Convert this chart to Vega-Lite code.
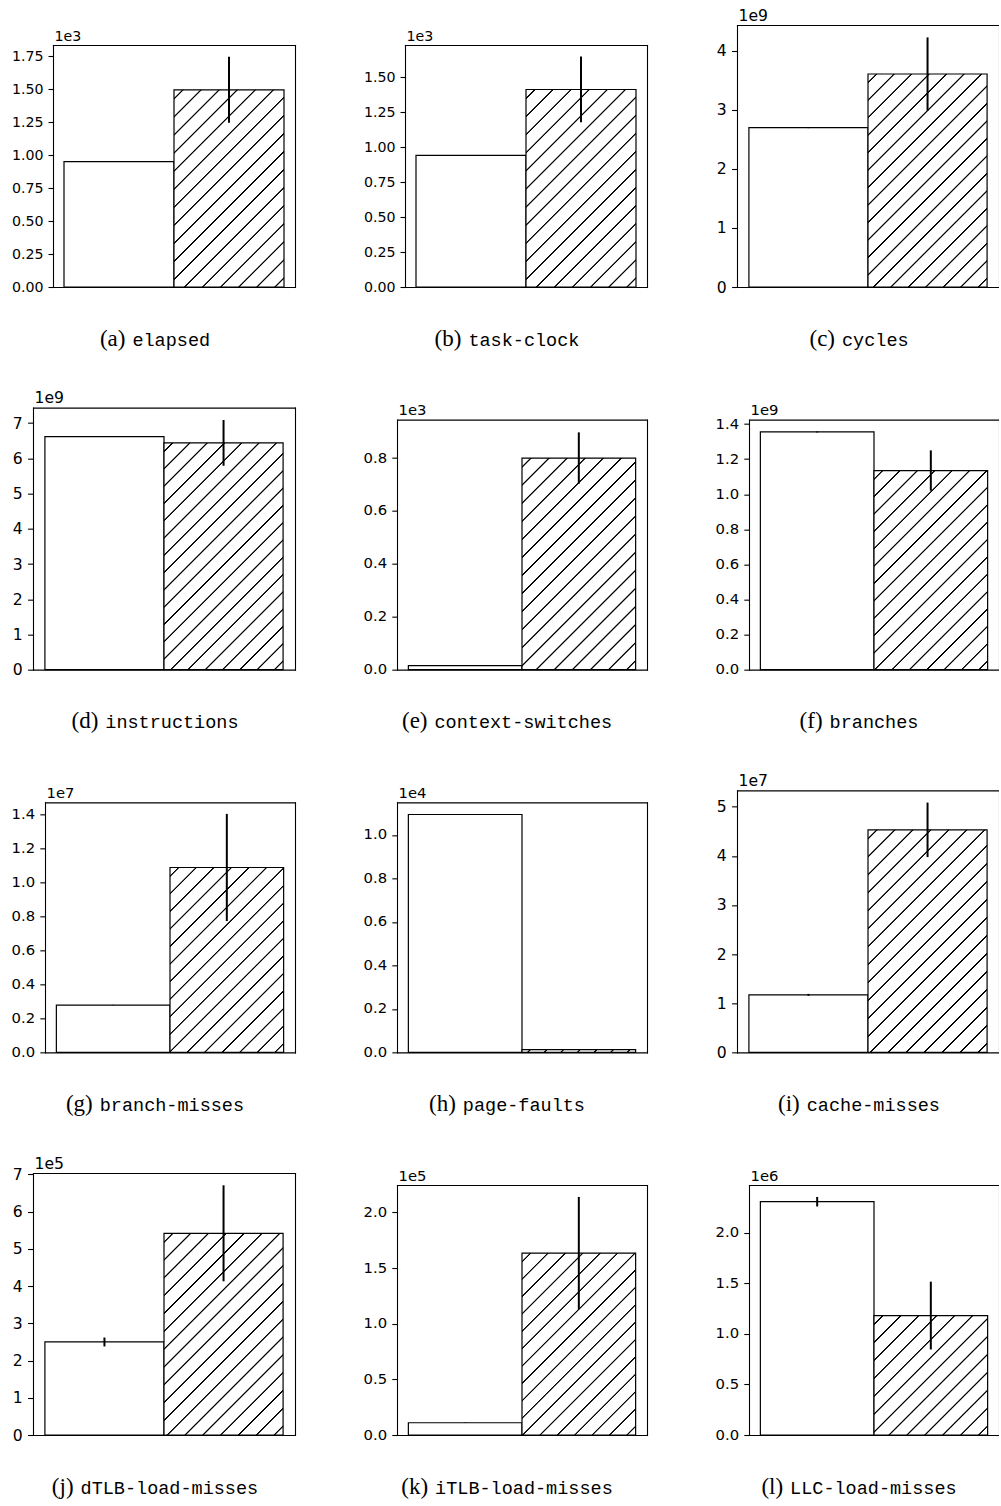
{
"$schema": "https://vega.github.io/schema/vega-lite/v6.json",
"padding": {"left": 11, "top": 8, "right": 0, "bottom": 0},
"datasets": {"perf": [
{"metric":"elapsed","sys":"A","value":950,"err":3},
{"metric":"elapsed","sys":"B","value":1495,"err":250},
{"metric":"task-clock","sys":"A","value":941,"err":3},
{"metric":"task-clock","sys":"B","value":1412,"err":235},
{"metric":"cycles","sys":"A","value":2.70e9,"err":0.008e9},
{"metric":"cycles","sys":"B","value":3.61e9,"err":0.62e9},
{"metric":"instructions","sys":"A","value":6.62e9,"err":0.01e9},
{"metric":"instructions","sys":"B","value":6.44e9,"err":0.65e9},
{"metric":"context-switches","sys":"A","value":15,"err":1},
{"metric":"context-switches","sys":"B","value":800,"err":97},
{"metric":"branches","sys":"A","value":1.355e9,"err":0.003e9},
{"metric":"branches","sys":"B","value":1.135e9,"err":0.115e9},
{"metric":"branch-misses","sys":"A","value":2.78e6,"err":0.01e6},
{"metric":"branch-misses","sys":"B","value":1.087e7,"err":3.15e6},
{"metric":"page-faults","sys":"A","value":10940,"err":15},
{"metric":"page-faults","sys":"B","value":125,"err":5},
{"metric":"cache-misses","sys":"A","value":1.17e7,"err":0.02e7},
{"metric":"cache-misses","sys":"B","value":4.53e7,"err":0.555e7},
{"metric":"dTLB-load-misses","sys":"A","value":2.5e5,"err":0.12e5},
{"metric":"dTLB-load-misses","sys":"B","value":5.42e5,"err":1.29e5},
{"metric":"iTLB-load-misses","sys":"A","value":1.1e4,"err":200},
{"metric":"iTLB-load-misses","sys":"B","value":1.635e5,"err":0.505e5},
{"metric":"LLC-load-misses","sys":"A","value":2.305e6,"err":0.047e6},
{"metric":"LLC-load-misses","sys":"B","value":1.18e6,"err":0.335e6}
]},
"data": {"name": "perf"},
"columns": 3,
"bounds": "flush",
"spacing": {"row": 120.67, "column": 90},
"concat": [
{"width": 262, "height": 262,
 "transform": [{"filter": "datum.metric === 'elapsed'"}],
 "resolve": {"axis": {"x": "independent", "y": "independent"}},
 "layer": [
  {"transform": [{"filter": "datum.sys === 'A'"}],
   "mark": {"type": "bar", "fill": "white", "stroke": "black", "strokeWidth": 1.2},
   "encoding": {
    "x": {"field": "sys", "type": "nominal", "scale": {"domain": ["A","B"], "paddingInner": 0, "paddingOuter": 0.1, "range": [20, 262]},
          "axis": {"orient": "bottom", "ticks": false, "labels": false, "title": "(a)", "titleFont": "Liberation Serif", "titleFontSize": 23, "titleX": 66.4, "titleY": 58, "titleAlign": "left", "titleBaseline": "alphabetic"}},
    "y": {"field": "value", "type": "quantitative", "scale": {"domain": [0, 1835], "range": [262, 20], "nice": false},
          "axis": {"orient": "left", "offset": -20, "values": [0,250,500,750,1000,1250,1500,1750], "labelExpr": "format(datum.value / 1e3, '.2f')", "labelFontSize": 14.2, "tickSize": 5, "labelPadding": 5, "title": "1e3", "titleFontSize": 14.2, "titleAngle": 0, "titleX": 1, "titleY": 15, "titleAlign": "left", "titleBaseline": "alphabetic"}}
   }},
  {"transform": [{"filter": "datum.sys === 'B'"}],
   "mark": {"type": "bar", "stroke": "black", "strokeWidth": 1.2,
    "fill": {"gradient": "linear", "x1": 0, "y1": 0, "x2": 0.6628, "y2": 1.1881, "stops": [
{"offset":0.0252,"color":"#fff"},{"offset":0.0278,"color":"#000"},{"offset":0.0310,"color":"#000"},{"offset":0.0336,"color":"#fff"},
{"offset":0.0840,"color":"#fff"},{"offset":0.0866,"color":"#000"},{"offset":0.0898,"color":"#000"},{"offset":0.0924,"color":"#fff"},
{"offset":0.1429,"color":"#fff"},{"offset":0.1455,"color":"#000"},{"offset":0.1487,"color":"#000"},{"offset":0.1513,"color":"#fff"},
{"offset":0.2017,"color":"#fff"},{"offset":0.2043,"color":"#000"},{"offset":0.2075,"color":"#000"},{"offset":0.2101,"color":"#fff"},
{"offset":0.2605,"color":"#fff"},{"offset":0.2631,"color":"#000"},{"offset":0.2663,"color":"#000"},{"offset":0.2689,"color":"#fff"},
{"offset":0.3193,"color":"#fff"},{"offset":0.3219,"color":"#000"},{"offset":0.3251,"color":"#000"},{"offset":0.3277,"color":"#fff"},
{"offset":0.3782,"color":"#fff"},{"offset":0.3808,"color":"#000"},{"offset":0.3840,"color":"#000"},{"offset":0.3866,"color":"#fff"},
{"offset":0.4370,"color":"#fff"},{"offset":0.4396,"color":"#000"},{"offset":0.4428,"color":"#000"},{"offset":0.4454,"color":"#fff"},
{"offset":0.4958,"color":"#fff"},{"offset":0.4984,"color":"#000"},{"offset":0.5016,"color":"#000"},{"offset":0.5042,"color":"#fff"},
{"offset":0.5546,"color":"#fff"},{"offset":0.5572,"color":"#000"},{"offset":0.5604,"color":"#000"},{"offset":0.5630,"color":"#fff"},
{"offset":0.6134,"color":"#fff"},{"offset":0.6160,"color":"#000"},{"offset":0.6192,"color":"#000"},{"offset":0.6218,"color":"#fff"},
{"offset":0.6723,"color":"#fff"},{"offset":0.6749,"color":"#000"},{"offset":0.6781,"color":"#000"},{"offset":0.6807,"color":"#fff"},
{"offset":0.7311,"color":"#fff"},{"offset":0.7337,"color":"#000"},{"offset":0.7369,"color":"#000"},{"offset":0.7395,"color":"#fff"},
{"offset":0.7899,"color":"#fff"},{"offset":0.7925,"color":"#000"},{"offset":0.7957,"color":"#000"},{"offset":0.7983,"color":"#fff"},
{"offset":0.8487,"color":"#fff"},{"offset":0.8513,"color":"#000"},{"offset":0.8545,"color":"#000"},{"offset":0.8571,"color":"#fff"},
{"offset":0.9076,"color":"#fff"},{"offset":0.9102,"color":"#000"},{"offset":0.9134,"color":"#000"},{"offset":0.9160,"color":"#fff"},
{"offset":0.9664,"color":"#fff"},{"offset":0.9690,"color":"#000"},{"offset":0.9722,"color":"#000"},{"offset":0.9748,"color":"#fff"}
    ]}},
   "encoding": {
    "x": {"field": "sys", "type": "nominal", "axis": {"orient": "top", "offset": -20, "ticks": false, "labels": false, "title": null}},
    "y": {"field": "value", "type": "quantitative", "axis": {"orient": "right", "ticks": false, "labels": false, "title": "elapsed", "titleFont": "Liberation Mono", "titleFontSize": 18.5, "titleAngle": 0, "titleX": -163.1, "titleY": 320, "titleAlign": "left", "titleBaseline": "alphabetic"}}
   }},
  {"mark": {"type": "errorbar", "color": "black", "thickness": 2},
   "encoding": {"x": {"field": "sys", "type": "nominal", "axis": null}, "y": {"field": "value", "type": "quantitative", "axis": null}, "yError": {"field": "err"}}}
 ]},
{"width": 262, "height": 262,
 "transform": [{"filter": "datum.metric === 'task-clock'"}],
 "resolve": {"axis": {"x": "independent", "y": "independent"}},
 "layer": [
  {"transform": [{"filter": "datum.sys === 'A'"}],
   "mark": {"type": "bar", "fill": "white", "stroke": "black", "strokeWidth": 1.2},
   "encoding": {
    "x": {"field": "sys", "type": "nominal", "scale": {"domain": ["A","B"], "paddingInner": 0, "paddingOuter": 0.1, "range": [20, 262]},
          "axis": {"orient": "bottom", "ticks": false, "labels": false, "title": "(b)", "titleFont": "Liberation Serif", "titleFontSize": 23, "titleX": 49.1, "titleY": 58, "titleAlign": "left", "titleBaseline": "alphabetic"}},
    "y": {"field": "value", "type": "quantitative", "scale": {"domain": [0, 1730], "range": [262, 20], "nice": false},
          "axis": {"orient": "left", "offset": -20, "values": [0,250,500,750,1000,1250,1500], "labelExpr": "format(datum.value / 1e3, '.2f')", "labelFontSize": 14.2, "tickSize": 5, "labelPadding": 5, "title": "1e3", "titleFontSize": 14.2, "titleAngle": 0, "titleX": 1, "titleY": 15, "titleAlign": "left", "titleBaseline": "alphabetic"}}
   }},
  {"transform": [{"filter": "datum.sys === 'B'"}],
   "mark": {"type": "bar", "stroke": "black", "strokeWidth": 1.2,
    "fill": {"gradient": "linear", "x1": 0, "y1": 0, "x2": 0.6619, "y2": 1.1884, "stops": [
{"offset":0.0252,"color":"#fff"},{"offset":0.0278,"color":"#000"},{"offset":0.0310,"color":"#000"},{"offset":0.0336,"color":"#fff"},
{"offset":0.0840,"color":"#fff"},{"offset":0.0866,"color":"#000"},{"offset":0.0898,"color":"#000"},{"offset":0.0924,"color":"#fff"},
{"offset":0.1429,"color":"#fff"},{"offset":0.1455,"color":"#000"},{"offset":0.1487,"color":"#000"},{"offset":0.1513,"color":"#fff"},
{"offset":0.2017,"color":"#fff"},{"offset":0.2043,"color":"#000"},{"offset":0.2075,"color":"#000"},{"offset":0.2101,"color":"#fff"},
{"offset":0.2605,"color":"#fff"},{"offset":0.2631,"color":"#000"},{"offset":0.2663,"color":"#000"},{"offset":0.2689,"color":"#fff"},
{"offset":0.3193,"color":"#fff"},{"offset":0.3219,"color":"#000"},{"offset":0.3251,"color":"#000"},{"offset":0.3277,"color":"#fff"},
{"offset":0.3782,"color":"#fff"},{"offset":0.3808,"color":"#000"},{"offset":0.3840,"color":"#000"},{"offset":0.3866,"color":"#fff"},
{"offset":0.4370,"color":"#fff"},{"offset":0.4396,"color":"#000"},{"offset":0.4428,"color":"#000"},{"offset":0.4454,"color":"#fff"},
{"offset":0.4958,"color":"#fff"},{"offset":0.4984,"color":"#000"},{"offset":0.5016,"color":"#000"},{"offset":0.5042,"color":"#fff"},
{"offset":0.5546,"color":"#fff"},{"offset":0.5572,"color":"#000"},{"offset":0.5604,"color":"#000"},{"offset":0.5630,"color":"#fff"},
{"offset":0.6134,"color":"#fff"},{"offset":0.6160,"color":"#000"},{"offset":0.6192,"color":"#000"},{"offset":0.6218,"color":"#fff"},
{"offset":0.6723,"color":"#fff"},{"offset":0.6749,"color":"#000"},{"offset":0.6781,"color":"#000"},{"offset":0.6807,"color":"#fff"},
{"offset":0.7311,"color":"#fff"},{"offset":0.7337,"color":"#000"},{"offset":0.7369,"color":"#000"},{"offset":0.7395,"color":"#fff"},
{"offset":0.7899,"color":"#fff"},{"offset":0.7925,"color":"#000"},{"offset":0.7957,"color":"#000"},{"offset":0.7983,"color":"#fff"},
{"offset":0.8487,"color":"#fff"},{"offset":0.8513,"color":"#000"},{"offset":0.8545,"color":"#000"},{"offset":0.8571,"color":"#fff"},
{"offset":0.9076,"color":"#fff"},{"offset":0.9102,"color":"#000"},{"offset":0.9134,"color":"#000"},{"offset":0.9160,"color":"#fff"},
{"offset":0.9664,"color":"#fff"},{"offset":0.9690,"color":"#000"},{"offset":0.9722,"color":"#000"},{"offset":0.9748,"color":"#fff"}
    ]}},
   "encoding": {
    "x": {"field": "sys", "type": "nominal", "axis": {"orient": "top", "offset": -20, "ticks": false, "labels": false, "title": null}},
    "y": {"field": "value", "type": "quantitative", "axis": {"orient": "right", "ticks": false, "labels": false, "title": "task-clock", "titleFont": "Liberation Mono", "titleFontSize": 18.5, "titleAngle": 0, "titleX": -179.1, "titleY": 320, "titleAlign": "left", "titleBaseline": "alphabetic"}}
   }},
  {"mark": {"type": "errorbar", "color": "black", "thickness": 2},
   "encoding": {"x": {"field": "sys", "type": "nominal", "axis": null}, "y": {"field": "value", "type": "quantitative", "axis": null}, "yError": {"field": "err"}}}
 ]},
{"width": 262, "height": 262,
 "transform": [{"filter": "datum.metric === 'cycles'"}],
 "resolve": {"axis": {"x": "independent", "y": "independent"}},
 "layer": [
  {"transform": [{"filter": "datum.sys === 'A'"}],
   "mark": {"type": "bar", "fill": "white", "stroke": "black", "strokeWidth": 1.2},
   "encoding": {
    "x": {"field": "sys", "type": "nominal", "scale": {"domain": ["A","B"], "paddingInner": 0, "paddingOuter": 0.1, "range": [0, 262]},
          "axis": {"orient": "bottom", "ticks": false, "labels": false, "title": "(c)", "titleFont": "Liberation Serif", "titleFontSize": 23, "titleX": 72.0, "titleY": 58, "titleAlign": "left", "titleBaseline": "alphabetic"}},
    "y": {"field": "value", "type": "quantitative", "scale": {"domain": [0, 4.44e9], "range": [262, 0], "nice": false},
          "axis": {"orient": "left", "offset": 0, "values": [0,1e9,2e9,3e9,4e9], "labelExpr": "format(datum.value / 1e9, '.0f')", "labelFontSize": 15.6, "tickSize": 5.4, "labelPadding": 5.4, "title": "1e9", "titleFontSize": 15.6, "titleAngle": 0, "titleX": 1, "titleY": -5, "titleAlign": "left", "titleBaseline": "alphabetic"}}
   }},
  {"transform": [{"filter": "datum.sys === 'B'"}],
   "mark": {"type": "bar", "stroke": "black", "strokeWidth": 1.2,
    "fill": {"gradient": "linear", "x1": 0, "y1": 0, "x2": 0.6641, "y2": 1.1877, "stops": [
{"offset":0.0224,"color":"#fff"},{"offset":0.0248,"color":"#000"},{"offset":0.0278,"color":"#000"},{"offset":0.0302,"color":"#fff"},
{"offset":0.0750,"color":"#fff"},{"offset":0.0774,"color":"#000"},{"offset":0.0804,"color":"#000"},{"offset":0.0828,"color":"#fff"},
{"offset":0.1277,"color":"#fff"},{"offset":0.1301,"color":"#000"},{"offset":0.1331,"color":"#000"},{"offset":0.1355,"color":"#fff"},
{"offset":0.1803,"color":"#fff"},{"offset":0.1827,"color":"#000"},{"offset":0.1857,"color":"#000"},{"offset":0.1881,"color":"#fff"},
{"offset":0.2329,"color":"#fff"},{"offset":0.2353,"color":"#000"},{"offset":0.2383,"color":"#000"},{"offset":0.2407,"color":"#fff"},
{"offset":0.2856,"color":"#fff"},{"offset":0.2880,"color":"#000"},{"offset":0.2910,"color":"#000"},{"offset":0.2934,"color":"#fff"},
{"offset":0.3382,"color":"#fff"},{"offset":0.3406,"color":"#000"},{"offset":0.3436,"color":"#000"},{"offset":0.3460,"color":"#fff"},
{"offset":0.3908,"color":"#fff"},{"offset":0.3932,"color":"#000"},{"offset":0.3962,"color":"#000"},{"offset":0.3986,"color":"#fff"},
{"offset":0.4435,"color":"#fff"},{"offset":0.4459,"color":"#000"},{"offset":0.4489,"color":"#000"},{"offset":0.4513,"color":"#fff"},
{"offset":0.4961,"color":"#fff"},{"offset":0.4985,"color":"#000"},{"offset":0.5015,"color":"#000"},{"offset":0.5039,"color":"#fff"},
{"offset":0.5487,"color":"#fff"},{"offset":0.5511,"color":"#000"},{"offset":0.5541,"color":"#000"},{"offset":0.5565,"color":"#fff"},
{"offset":0.6014,"color":"#fff"},{"offset":0.6038,"color":"#000"},{"offset":0.6068,"color":"#000"},{"offset":0.6092,"color":"#fff"},
{"offset":0.6540,"color":"#fff"},{"offset":0.6564,"color":"#000"},{"offset":0.6594,"color":"#000"},{"offset":0.6618,"color":"#fff"},
{"offset":0.7066,"color":"#fff"},{"offset":0.7090,"color":"#000"},{"offset":0.7120,"color":"#000"},{"offset":0.7144,"color":"#fff"},
{"offset":0.7593,"color":"#fff"},{"offset":0.7617,"color":"#000"},{"offset":0.7647,"color":"#000"},{"offset":0.7671,"color":"#fff"},
{"offset":0.8119,"color":"#fff"},{"offset":0.8143,"color":"#000"},{"offset":0.8173,"color":"#000"},{"offset":0.8197,"color":"#fff"},
{"offset":0.8645,"color":"#fff"},{"offset":0.8669,"color":"#000"},{"offset":0.8699,"color":"#000"},{"offset":0.8723,"color":"#fff"},
{"offset":0.9172,"color":"#fff"},{"offset":0.9196,"color":"#000"},{"offset":0.9226,"color":"#000"},{"offset":0.9250,"color":"#fff"},
{"offset":0.9698,"color":"#fff"},{"offset":0.9722,"color":"#000"},{"offset":0.9752,"color":"#000"},{"offset":0.9776,"color":"#fff"}
    ]}},
   "encoding": {
    "x": {"field": "sys", "type": "nominal", "axis": {"orient": "top", "offset": 0, "ticks": false, "labels": false, "title": null}},
    "y": {"field": "value", "type": "quantitative", "axis": {"orient": "right", "ticks": false, "labels": false, "title": "cycles", "titleFont": "Liberation Mono", "titleFontSize": 18.5, "titleAngle": 0, "titleX": -157.5, "titleY": 320, "titleAlign": "left", "titleBaseline": "alphabetic"}}
   }},
  {"mark": {"type": "errorbar", "color": "black", "thickness": 2},
   "encoding": {"x": {"field": "sys", "type": "nominal", "axis": null}, "y": {"field": "value", "type": "quantitative", "axis": null}, "yError": {"field": "err"}}}
 ]},
{"width": 262, "height": 262,
 "transform": [{"filter": "datum.metric === 'instructions'"}],
 "resolve": {"axis": {"x": "independent", "y": "independent"}},
 "layer": [
  {"transform": [{"filter": "datum.sys === 'A'"}],
   "mark": {"type": "bar", "fill": "white", "stroke": "black", "strokeWidth": 1.2},
   "encoding": {
    "x": {"field": "sys", "type": "nominal", "scale": {"domain": ["A","B"], "paddingInner": 0, "paddingOuter": 0.1, "range": [0, 262]},
          "axis": {"orient": "bottom", "ticks": false, "labels": false, "title": "(d)", "titleFont": "Liberation Serif", "titleFontSize": 23, "titleX": 38.0, "titleY": 58, "titleAlign": "left", "titleBaseline": "alphabetic"}},
    "y": {"field": "value", "type": "quantitative", "scale": {"domain": [0, 7.44e9], "range": [262, 0], "nice": false},
          "axis": {"orient": "left", "offset": 0, "values": [0,1e9,2e9,3e9,4e9,5e9,6e9,7e9], "labelExpr": "format(datum.value / 1e9, '.0f')", "labelFontSize": 15.6, "tickSize": 5.4, "labelPadding": 5.4, "title": "1e9", "titleFontSize": 15.6, "titleAngle": 0, "titleX": 1, "titleY": -5, "titleAlign": "left", "titleBaseline": "alphabetic"}}
   }},
  {"transform": [{"filter": "datum.sys === 'B'"}],
   "mark": {"type": "bar", "stroke": "black", "strokeWidth": 1.2,
    "fill": {"gradient": "linear", "x1": 0, "y1": 0, "x2": 0.6278, "y2": 1.1955, "stops": [
{"offset":0.0212,"color":"#fff"},{"offset":0.0236,"color":"#000"},{"offset":0.0264,"color":"#000"},{"offset":0.0288,"color":"#fff"},
{"offset":0.0712,"color":"#fff"},{"offset":0.0736,"color":"#000"},{"offset":0.0764,"color":"#000"},{"offset":0.0788,"color":"#fff"},
{"offset":0.1212,"color":"#fff"},{"offset":0.1236,"color":"#000"},{"offset":0.1264,"color":"#000"},{"offset":0.1288,"color":"#fff"},
{"offset":0.1712,"color":"#fff"},{"offset":0.1736,"color":"#000"},{"offset":0.1764,"color":"#000"},{"offset":0.1788,"color":"#fff"},
{"offset":0.2212,"color":"#fff"},{"offset":0.2236,"color":"#000"},{"offset":0.2264,"color":"#000"},{"offset":0.2288,"color":"#fff"},
{"offset":0.2712,"color":"#fff"},{"offset":0.2736,"color":"#000"},{"offset":0.2764,"color":"#000"},{"offset":0.2788,"color":"#fff"},
{"offset":0.3212,"color":"#fff"},{"offset":0.3236,"color":"#000"},{"offset":0.3264,"color":"#000"},{"offset":0.3288,"color":"#fff"},
{"offset":0.3712,"color":"#fff"},{"offset":0.3736,"color":"#000"},{"offset":0.3764,"color":"#000"},{"offset":0.3788,"color":"#fff"},
{"offset":0.4212,"color":"#fff"},{"offset":0.4236,"color":"#000"},{"offset":0.4264,"color":"#000"},{"offset":0.4288,"color":"#fff"},
{"offset":0.4712,"color":"#fff"},{"offset":0.4736,"color":"#000"},{"offset":0.4764,"color":"#000"},{"offset":0.4788,"color":"#fff"},
{"offset":0.5212,"color":"#fff"},{"offset":0.5236,"color":"#000"},{"offset":0.5264,"color":"#000"},{"offset":0.5288,"color":"#fff"},
{"offset":0.5712,"color":"#fff"},{"offset":0.5736,"color":"#000"},{"offset":0.5764,"color":"#000"},{"offset":0.5788,"color":"#fff"},
{"offset":0.6212,"color":"#fff"},{"offset":0.6236,"color":"#000"},{"offset":0.6264,"color":"#000"},{"offset":0.6288,"color":"#fff"},
{"offset":0.6712,"color":"#fff"},{"offset":0.6736,"color":"#000"},{"offset":0.6764,"color":"#000"},{"offset":0.6788,"color":"#fff"},
{"offset":0.7212,"color":"#fff"},{"offset":0.7236,"color":"#000"},{"offset":0.7264,"color":"#000"},{"offset":0.7288,"color":"#fff"},
{"offset":0.7712,"color":"#fff"},{"offset":0.7736,"color":"#000"},{"offset":0.7764,"color":"#000"},{"offset":0.7788,"color":"#fff"},
{"offset":0.8212,"color":"#fff"},{"offset":0.8236,"color":"#000"},{"offset":0.8264,"color":"#000"},{"offset":0.8288,"color":"#fff"},
{"offset":0.8712,"color":"#fff"},{"offset":0.8736,"color":"#000"},{"offset":0.8764,"color":"#000"},{"offset":0.8788,"color":"#fff"},
{"offset":0.9212,"color":"#fff"},{"offset":0.9236,"color":"#000"},{"offset":0.9264,"color":"#000"},{"offset":0.9288,"color":"#fff"},
{"offset":0.9712,"color":"#fff"},{"offset":0.9736,"color":"#000"},{"offset":0.9764,"color":"#000"},{"offset":0.9788,"color":"#fff"}
    ]}},
   "encoding": {
    "x": {"field": "sys", "type": "nominal", "axis": {"orient": "top", "offset": 0, "ticks": false, "labels": false, "title": null}},
    "y": {"field": "value", "type": "quantitative", "axis": {"orient": "right", "ticks": false, "labels": false, "title": "instructions", "titleFont": "Liberation Mono", "titleFontSize": 18.5, "titleAngle": 0, "titleX": -190.2, "titleY": 320, "titleAlign": "left", "titleBaseline": "alphabetic"}}
   }},
  {"mark": {"type": "errorbar", "color": "black", "thickness": 2},
   "encoding": {"x": {"field": "sys", "type": "nominal", "axis": null}, "y": {"field": "value", "type": "quantitative", "axis": null}, "yError": {"field": "err"}}}
 ]},
{"width": 262, "height": 262,
 "transform": [{"filter": "datum.metric === 'context-switches'"}],
 "resolve": {"axis": {"x": "independent", "y": "independent"}},
 "layer": [
  {"transform": [{"filter": "datum.sys === 'A'"}],
   "mark": {"type": "bar", "fill": "white", "stroke": "black", "strokeWidth": 1.2},
   "encoding": {
    "x": {"field": "sys", "type": "nominal", "scale": {"domain": ["A","B"], "paddingInner": 0, "paddingOuter": 0.1, "range": [12, 262]},
          "axis": {"orient": "bottom", "ticks": false, "labels": false, "title": "(e)", "titleFont": "Liberation Serif", "titleFontSize": 23, "titleX": 16.5, "titleY": 58, "titleAlign": "left", "titleBaseline": "alphabetic"}},
    "y": {"field": "value", "type": "quantitative", "scale": {"domain": [0, 945], "range": [262, 12], "nice": false},
          "axis": {"orient": "left", "offset": -12, "values": [0,200,400,600,800], "labelExpr": "format(datum.value / 1e3, '.1f')", "labelFontSize": 14.8, "tickSize": 5.2, "labelPadding": 5.2, "title": "1e3", "titleFontSize": 14.8, "titleAngle": 0, "titleX": 1, "titleY": 7, "titleAlign": "left", "titleBaseline": "alphabetic"}}
   }},
  {"transform": [{"filter": "datum.sys === 'B'"}],
   "mark": {"type": "bar", "stroke": "black", "strokeWidth": 1.2,
    "fill": {"gradient": "linear", "x1": 0, "y1": 0, "x2": 0.6405, "y2": 1.1930, "stops": [
{"offset":0.0237,"color":"#fff"},{"offset":0.0262,"color":"#000"},{"offset":0.0294,"color":"#000"},{"offset":0.0319,"color":"#fff"},
{"offset":0.0792,"color":"#fff"},{"offset":0.0817,"color":"#000"},{"offset":0.0849,"color":"#000"},{"offset":0.0874,"color":"#fff"},
{"offset":0.1348,"color":"#fff"},{"offset":0.1373,"color":"#000"},{"offset":0.1405,"color":"#000"},{"offset":0.1430,"color":"#fff"},
{"offset":0.1903,"color":"#fff"},{"offset":0.1928,"color":"#000"},{"offset":0.1960,"color":"#000"},{"offset":0.1985,"color":"#fff"},
{"offset":0.2459,"color":"#fff"},{"offset":0.2484,"color":"#000"},{"offset":0.2516,"color":"#000"},{"offset":0.2541,"color":"#fff"},
{"offset":0.3015,"color":"#fff"},{"offset":0.3040,"color":"#000"},{"offset":0.3072,"color":"#000"},{"offset":0.3097,"color":"#fff"},
{"offset":0.3570,"color":"#fff"},{"offset":0.3595,"color":"#000"},{"offset":0.3627,"color":"#000"},{"offset":0.3652,"color":"#fff"},
{"offset":0.4126,"color":"#fff"},{"offset":0.4151,"color":"#000"},{"offset":0.4183,"color":"#000"},{"offset":0.4208,"color":"#fff"},
{"offset":0.4681,"color":"#fff"},{"offset":0.4706,"color":"#000"},{"offset":0.4738,"color":"#000"},{"offset":0.4763,"color":"#fff"},
{"offset":0.5237,"color":"#fff"},{"offset":0.5262,"color":"#000"},{"offset":0.5294,"color":"#000"},{"offset":0.5319,"color":"#fff"},
{"offset":0.5792,"color":"#fff"},{"offset":0.5817,"color":"#000"},{"offset":0.5849,"color":"#000"},{"offset":0.5874,"color":"#fff"},
{"offset":0.6348,"color":"#fff"},{"offset":0.6373,"color":"#000"},{"offset":0.6405,"color":"#000"},{"offset":0.6430,"color":"#fff"},
{"offset":0.6903,"color":"#fff"},{"offset":0.6928,"color":"#000"},{"offset":0.6960,"color":"#000"},{"offset":0.6985,"color":"#fff"},
{"offset":0.7459,"color":"#fff"},{"offset":0.7484,"color":"#000"},{"offset":0.7516,"color":"#000"},{"offset":0.7541,"color":"#fff"},
{"offset":0.8015,"color":"#fff"},{"offset":0.8040,"color":"#000"},{"offset":0.8072,"color":"#000"},{"offset":0.8097,"color":"#fff"},
{"offset":0.8570,"color":"#fff"},{"offset":0.8595,"color":"#000"},{"offset":0.8627,"color":"#000"},{"offset":0.8652,"color":"#fff"},
{"offset":0.9126,"color":"#fff"},{"offset":0.9151,"color":"#000"},{"offset":0.9183,"color":"#000"},{"offset":0.9208,"color":"#fff"},
{"offset":0.9681,"color":"#fff"},{"offset":0.9706,"color":"#000"},{"offset":0.9738,"color":"#000"},{"offset":0.9763,"color":"#fff"}
    ]}},
   "encoding": {
    "x": {"field": "sys", "type": "nominal", "axis": {"orient": "top", "offset": -12, "ticks": false, "labels": false, "title": null}},
    "y": {"field": "value", "type": "quantitative", "axis": {"orient": "right", "ticks": false, "labels": false, "title": "context-switches", "titleFont": "Liberation Mono", "titleFontSize": 18.5, "titleAngle": 0, "titleX": -213.0, "titleY": 320, "titleAlign": "left", "titleBaseline": "alphabetic"}}
   }},
  {"mark": {"type": "errorbar", "color": "black", "thickness": 2},
   "encoding": {"x": {"field": "sys", "type": "nominal", "axis": null}, "y": {"field": "value", "type": "quantitative", "axis": null}, "yError": {"field": "err"}}}
 ]},
{"width": 262, "height": 262,
 "transform": [{"filter": "datum.metric === 'branches'"}],
 "resolve": {"axis": {"x": "independent", "y": "independent"}},
 "layer": [
  {"transform": [{"filter": "datum.sys === 'A'"}],
   "mark": {"type": "bar", "fill": "white", "stroke": "black", "strokeWidth": 1.2},
   "encoding": {
    "x": {"field": "sys", "type": "nominal", "scale": {"domain": ["A","B"], "paddingInner": 0, "paddingOuter": 0.1, "range": [12, 262]},
          "axis": {"orient": "bottom", "ticks": false, "labels": false, "title": "(f)", "titleFont": "Liberation Serif", "titleFontSize": 23, "titleX": 62.1, "titleY": 58, "titleAlign": "left", "titleBaseline": "alphabetic"}},
    "y": {"field": "value", "type": "quantitative", "scale": {"domain": [0, 1.425e9], "range": [262, 12], "nice": false},
          "axis": {"orient": "left", "offset": -12, "values": [0,2e8,4e8,6e8,8e8,1e9,1.2e9,1.4e9], "labelExpr": "format(datum.value / 1e9, '.1f')", "labelFontSize": 14.8, "tickSize": 5.2, "labelPadding": 5.2, "title": "1e9", "titleFontSize": 14.8, "titleAngle": 0, "titleX": 1, "titleY": 7, "titleAlign": "left", "titleBaseline": "alphabetic"}}
   }},
  {"transform": [{"filter": "datum.sys === 'B'"}],
   "mark": {"type": "bar", "stroke": "black", "strokeWidth": 1.2,
    "fill": {"gradient": "linear", "x1": 0, "y1": 0, "x2": 0.6760, "y2": 1.1849, "stops": [
{"offset":0.0237,"color":"#fff"},{"offset":0.0262,"color":"#000"},{"offset":0.0294,"color":"#000"},{"offset":0.0319,"color":"#fff"},
{"offset":0.0792,"color":"#fff"},{"offset":0.0817,"color":"#000"},{"offset":0.0849,"color":"#000"},{"offset":0.0874,"color":"#fff"},
{"offset":0.1348,"color":"#fff"},{"offset":0.1373,"color":"#000"},{"offset":0.1405,"color":"#000"},{"offset":0.1430,"color":"#fff"},
{"offset":0.1903,"color":"#fff"},{"offset":0.1928,"color":"#000"},{"offset":0.1960,"color":"#000"},{"offset":0.1985,"color":"#fff"},
{"offset":0.2459,"color":"#fff"},{"offset":0.2484,"color":"#000"},{"offset":0.2516,"color":"#000"},{"offset":0.2541,"color":"#fff"},
{"offset":0.3015,"color":"#fff"},{"offset":0.3040,"color":"#000"},{"offset":0.3072,"color":"#000"},{"offset":0.3097,"color":"#fff"},
{"offset":0.3570,"color":"#fff"},{"offset":0.3595,"color":"#000"},{"offset":0.3627,"color":"#000"},{"offset":0.3652,"color":"#fff"},
{"offset":0.4126,"color":"#fff"},{"offset":0.4151,"color":"#000"},{"offset":0.4183,"color":"#000"},{"offset":0.4208,"color":"#fff"},
{"offset":0.4681,"color":"#fff"},{"offset":0.4706,"color":"#000"},{"offset":0.4738,"color":"#000"},{"offset":0.4763,"color":"#fff"},
{"offset":0.5237,"color":"#fff"},{"offset":0.5262,"color":"#000"},{"offset":0.5294,"color":"#000"},{"offset":0.5319,"color":"#fff"},
{"offset":0.5792,"color":"#fff"},{"offset":0.5817,"color":"#000"},{"offset":0.5849,"color":"#000"},{"offset":0.5874,"color":"#fff"},
{"offset":0.6348,"color":"#fff"},{"offset":0.6373,"color":"#000"},{"offset":0.6405,"color":"#000"},{"offset":0.6430,"color":"#fff"},
{"offset":0.6903,"color":"#fff"},{"offset":0.6928,"color":"#000"},{"offset":0.6960,"color":"#000"},{"offset":0.6985,"color":"#fff"},
{"offset":0.7459,"color":"#fff"},{"offset":0.7484,"color":"#000"},{"offset":0.7516,"color":"#000"},{"offset":0.7541,"color":"#fff"},
{"offset":0.8015,"color":"#fff"},{"offset":0.8040,"color":"#000"},{"offset":0.8072,"color":"#000"},{"offset":0.8097,"color":"#fff"},
{"offset":0.8570,"color":"#fff"},{"offset":0.8595,"color":"#000"},{"offset":0.8627,"color":"#000"},{"offset":0.8652,"color":"#fff"},
{"offset":0.9126,"color":"#fff"},{"offset":0.9151,"color":"#000"},{"offset":0.9183,"color":"#000"},{"offset":0.9208,"color":"#fff"},
{"offset":0.9681,"color":"#fff"},{"offset":0.9706,"color":"#000"},{"offset":0.9738,"color":"#000"},{"offset":0.9763,"color":"#fff"}
    ]}},
   "encoding": {
    "x": {"field": "sys", "type": "nominal", "axis": {"orient": "top", "offset": -12, "ticks": false, "labels": false, "title": null}},
    "y": {"field": "value", "type": "quantitative", "axis": {"orient": "right", "ticks": false, "labels": false, "title": "branches", "titleFont": "Liberation Mono", "titleFontSize": 18.5, "titleAngle": 0, "titleX": -169.9, "titleY": 320, "titleAlign": "left", "titleBaseline": "alphabetic"}}
   }},
  {"mark": {"type": "errorbar", "color": "black", "thickness": 2},
   "encoding": {"x": {"field": "sys", "type": "nominal", "axis": null}, "y": {"field": "value", "type": "quantitative", "axis": null}, "yError": {"field": "err"}}}
 ]},
{"width": 262, "height": 262,
 "transform": [{"filter": "datum.metric === 'branch-misses'"}],
 "resolve": {"axis": {"x": "independent", "y": "independent"}},
 "layer": [
  {"transform": [{"filter": "datum.sys === 'A'"}],
   "mark": {"type": "bar", "fill": "white", "stroke": "black", "strokeWidth": 1.2},
   "encoding": {
    "x": {"field": "sys", "type": "nominal", "scale": {"domain": ["A","B"], "paddingInner": 0, "paddingOuter": 0.1, "range": [12, 262]},
          "axis": {"orient": "bottom", "ticks": false, "labels": false, "title": "(g)", "titleFont": "Liberation Serif", "titleFontSize": 23, "titleX": 32.45, "titleY": 58, "titleAlign": "left", "titleBaseline": "alphabetic"}},
    "y": {"field": "value", "type": "quantitative", "scale": {"domain": [0, 1.47e7], "range": [262, 12], "nice": false},
          "axis": {"orient": "left", "offset": -12, "values": [0,2e6,4e6,6e6,8e6,1e7,1.2e7,1.4e7], "labelExpr": "format(datum.value / 1e7, '.1f')", "labelFontSize": 14.8, "tickSize": 5.2, "labelPadding": 5.2, "title": "1e7", "titleFontSize": 14.8, "titleAngle": 0, "titleX": 1, "titleY": 7, "titleAlign": "left", "titleBaseline": "alphabetic"}}
   }},
  {"transform": [{"filter": "datum.sys === 'B'"}],
   "mark": {"type": "bar", "stroke": "black", "strokeWidth": 1.2,
    "fill": {"gradient": "linear", "x1": 0, "y1": 0, "x2": 0.7201, "y2": 1.1721, "stops": [
{"offset":0.0252,"color":"#fff"},{"offset":0.0278,"color":"#000"},{"offset":0.0310,"color":"#000"},{"offset":0.0336,"color":"#fff"},
{"offset":0.0840,"color":"#fff"},{"offset":0.0866,"color":"#000"},{"offset":0.0898,"color":"#000"},{"offset":0.0924,"color":"#fff"},
{"offset":0.1429,"color":"#fff"},{"offset":0.1455,"color":"#000"},{"offset":0.1487,"color":"#000"},{"offset":0.1513,"color":"#fff"},
{"offset":0.2017,"color":"#fff"},{"offset":0.2043,"color":"#000"},{"offset":0.2075,"color":"#000"},{"offset":0.2101,"color":"#fff"},
{"offset":0.2605,"color":"#fff"},{"offset":0.2631,"color":"#000"},{"offset":0.2663,"color":"#000"},{"offset":0.2689,"color":"#fff"},
{"offset":0.3193,"color":"#fff"},{"offset":0.3219,"color":"#000"},{"offset":0.3251,"color":"#000"},{"offset":0.3277,"color":"#fff"},
{"offset":0.3782,"color":"#fff"},{"offset":0.3808,"color":"#000"},{"offset":0.3840,"color":"#000"},{"offset":0.3866,"color":"#fff"},
{"offset":0.4370,"color":"#fff"},{"offset":0.4396,"color":"#000"},{"offset":0.4428,"color":"#000"},{"offset":0.4454,"color":"#fff"},
{"offset":0.4958,"color":"#fff"},{"offset":0.4984,"color":"#000"},{"offset":0.5016,"color":"#000"},{"offset":0.5042,"color":"#fff"},
{"offset":0.5546,"color":"#fff"},{"offset":0.5572,"color":"#000"},{"offset":0.5604,"color":"#000"},{"offset":0.5630,"color":"#fff"},
{"offset":0.6134,"color":"#fff"},{"offset":0.6160,"color":"#000"},{"offset":0.6192,"color":"#000"},{"offset":0.6218,"color":"#fff"},
{"offset":0.6723,"color":"#fff"},{"offset":0.6749,"color":"#000"},{"offset":0.6781,"color":"#000"},{"offset":0.6807,"color":"#fff"},
{"offset":0.7311,"color":"#fff"},{"offset":0.7337,"color":"#000"},{"offset":0.7369,"color":"#000"},{"offset":0.7395,"color":"#fff"},
{"offset":0.7899,"color":"#fff"},{"offset":0.7925,"color":"#000"},{"offset":0.7957,"color":"#000"},{"offset":0.7983,"color":"#fff"},
{"offset":0.8487,"color":"#fff"},{"offset":0.8513,"color":"#000"},{"offset":0.8545,"color":"#000"},{"offset":0.8571,"color":"#fff"},
{"offset":0.9076,"color":"#fff"},{"offset":0.9102,"color":"#000"},{"offset":0.9134,"color":"#000"},{"offset":0.9160,"color":"#fff"},
{"offset":0.9664,"color":"#fff"},{"offset":0.9690,"color":"#000"},{"offset":0.9722,"color":"#000"},{"offset":0.9748,"color":"#fff"}
    ]}},
   "encoding": {
    "x": {"field": "sys", "type": "nominal", "axis": {"orient": "top", "offset": -12, "ticks": false, "labels": false, "title": null}},
    "y": {"field": "value", "type": "quantitative", "axis": {"orient": "right", "ticks": false, "labels": false, "title": "branch-misses", "titleFont": "Liberation Mono", "titleFontSize": 18.5, "titleAngle": 0, "titleX": -195.75, "titleY": 320, "titleAlign": "left", "titleBaseline": "alphabetic"}}
   }},
  {"mark": {"type": "errorbar", "color": "black", "thickness": 2},
   "encoding": {"x": {"field": "sys", "type": "nominal", "axis": null}, "y": {"field": "value", "type": "quantitative", "axis": null}, "yError": {"field": "err"}}}
 ]},
{"width": 262, "height": 262,
 "transform": [{"filter": "datum.metric === 'page-faults'"}],
 "resolve": {"axis": {"x": "independent", "y": "independent"}},
 "layer": [
  {"transform": [{"filter": "datum.sys === 'A'"}],
   "mark": {"type": "bar", "fill": "white", "stroke": "black", "strokeWidth": 1.2},
   "encoding": {
    "x": {"field": "sys", "type": "nominal", "scale": {"domain": ["A","B"], "paddingInner": 0, "paddingOuter": 0.1, "range": [12, 262]},
          "axis": {"orient": "bottom", "ticks": false, "labels": false, "title": "(h)", "titleFont": "Liberation Serif", "titleFontSize": 23, "titleX": 43.55, "titleY": 58, "titleAlign": "left", "titleBaseline": "alphabetic"}},
    "y": {"field": "value", "type": "quantitative", "scale": {"domain": [0, 11500], "range": [262, 12], "nice": false},
          "axis": {"orient": "left", "offset": -12, "values": [0,2000,4000,6000,8000,10000], "labelExpr": "format(datum.value / 1e4, '.1f')", "labelFontSize": 14.8, "tickSize": 5.2, "labelPadding": 5.2, "title": "1e4", "titleFontSize": 14.8, "titleAngle": 0, "titleX": 1, "titleY": 7, "titleAlign": "left", "titleBaseline": "alphabetic"}}
   }},
  {"transform": [{"filter": "datum.sys === 'B'"}],
   "mark": {"type": "bar", "stroke": "black", "strokeWidth": 1.2,
    "fill": {"gradient": "linear", "x1": 0, "y1": 0, "x2": 1.0232, "y2": 0.0243, "stops": [
{"offset":0.0602,"color":"#fff"},{"offset":0.0671,"color":"#000"},{"offset":0.0757,"color":"#000"},{"offset":0.0826,"color":"#fff"},
{"offset":0.2031,"color":"#fff"},{"offset":0.2100,"color":"#000"},{"offset":0.2186,"color":"#000"},{"offset":0.2255,"color":"#fff"},
{"offset":0.3459,"color":"#fff"},{"offset":0.3528,"color":"#000"},{"offset":0.3614,"color":"#000"},{"offset":0.3683,"color":"#fff"},
{"offset":0.4888,"color":"#fff"},{"offset":0.4957,"color":"#000"},{"offset":0.5043,"color":"#000"},{"offset":0.5112,"color":"#fff"},
{"offset":0.6317,"color":"#fff"},{"offset":0.6386,"color":"#000"},{"offset":0.6472,"color":"#000"},{"offset":0.6541,"color":"#fff"},
{"offset":0.7745,"color":"#fff"},{"offset":0.7814,"color":"#000"},{"offset":0.7900,"color":"#000"},{"offset":0.7969,"color":"#fff"},
{"offset":0.9174,"color":"#fff"},{"offset":0.9243,"color":"#000"},{"offset":0.9329,"color":"#000"},{"offset":0.9398,"color":"#fff"}
    ]}},
   "encoding": {
    "x": {"field": "sys", "type": "nominal", "axis": {"orient": "top", "offset": -12, "ticks": false, "labels": false, "title": null}},
    "y": {"field": "value", "type": "quantitative", "axis": {"orient": "right", "ticks": false, "labels": false, "title": "page-faults", "titleFont": "Liberation Mono", "titleFontSize": 18.5, "titleAngle": 0, "titleX": -184.65, "titleY": 320, "titleAlign": "left", "titleBaseline": "alphabetic"}}
   }},
  {"mark": {"type": "errorbar", "color": "black", "thickness": 2},
   "encoding": {"x": {"field": "sys", "type": "nominal", "axis": null}, "y": {"field": "value", "type": "quantitative", "axis": null}, "yError": {"field": "err"}}}
 ]},
{"width": 262, "height": 262,
 "transform": [{"filter": "datum.metric === 'cache-misses'"}],
 "resolve": {"axis": {"x": "independent", "y": "independent"}},
 "layer": [
  {"transform": [{"filter": "datum.sys === 'A'"}],
   "mark": {"type": "bar", "fill": "white", "stroke": "black", "strokeWidth": 1.2},
   "encoding": {
    "x": {"field": "sys", "type": "nominal", "scale": {"domain": ["A","B"], "paddingInner": 0, "paddingOuter": 0.1, "range": [0, 262]},
          "axis": {"orient": "bottom", "ticks": false, "labels": false, "title": "(i)", "titleFont": "Liberation Serif", "titleFontSize": 23, "titleX": 40.55, "titleY": 58, "titleAlign": "left", "titleBaseline": "alphabetic"}},
    "y": {"field": "value", "type": "quantitative", "scale": {"domain": [0, 5.334e7], "range": [262, 0], "nice": false},
          "axis": {"orient": "left", "offset": 0, "values": [0,1e7,2e7,3e7,4e7,5e7], "labelExpr": "format(datum.value / 1e7, '.0f')", "labelFontSize": 15.6, "tickSize": 5.4, "labelPadding": 5.4, "title": "1e7", "titleFontSize": 15.6, "titleAngle": 0, "titleX": 1, "titleY": -5, "titleAlign": "left", "titleBaseline": "alphabetic"}}
   }},
  {"transform": [{"filter": "datum.sys === 'B'"}],
   "mark": {"type": "bar", "stroke": "black", "strokeWidth": 1.2,
    "fill": {"gradient": "linear", "x1": 0, "y1": 0, "x2": 0.6388, "y2": 1.1933, "stops": [
{"offset":0.0224,"color":"#fff"},{"offset":0.0248,"color":"#000"},{"offset":0.0278,"color":"#000"},{"offset":0.0302,"color":"#fff"},
{"offset":0.0750,"color":"#fff"},{"offset":0.0774,"color":"#000"},{"offset":0.0804,"color":"#000"},{"offset":0.0828,"color":"#fff"},
{"offset":0.1277,"color":"#fff"},{"offset":0.1301,"color":"#000"},{"offset":0.1331,"color":"#000"},{"offset":0.1355,"color":"#fff"},
{"offset":0.1803,"color":"#fff"},{"offset":0.1827,"color":"#000"},{"offset":0.1857,"color":"#000"},{"offset":0.1881,"color":"#fff"},
{"offset":0.2329,"color":"#fff"},{"offset":0.2353,"color":"#000"},{"offset":0.2383,"color":"#000"},{"offset":0.2407,"color":"#fff"},
{"offset":0.2856,"color":"#fff"},{"offset":0.2880,"color":"#000"},{"offset":0.2910,"color":"#000"},{"offset":0.2934,"color":"#fff"},
{"offset":0.3382,"color":"#fff"},{"offset":0.3406,"color":"#000"},{"offset":0.3436,"color":"#000"},{"offset":0.3460,"color":"#fff"},
{"offset":0.3908,"color":"#fff"},{"offset":0.3932,"color":"#000"},{"offset":0.3962,"color":"#000"},{"offset":0.3986,"color":"#fff"},
{"offset":0.4435,"color":"#fff"},{"offset":0.4459,"color":"#000"},{"offset":0.4489,"color":"#000"},{"offset":0.4513,"color":"#fff"},
{"offset":0.4961,"color":"#fff"},{"offset":0.4985,"color":"#000"},{"offset":0.5015,"color":"#000"},{"offset":0.5039,"color":"#fff"},
{"offset":0.5487,"color":"#fff"},{"offset":0.5511,"color":"#000"},{"offset":0.5541,"color":"#000"},{"offset":0.5565,"color":"#fff"},
{"offset":0.6014,"color":"#fff"},{"offset":0.6038,"color":"#000"},{"offset":0.6068,"color":"#000"},{"offset":0.6092,"color":"#fff"},
{"offset":0.6540,"color":"#fff"},{"offset":0.6564,"color":"#000"},{"offset":0.6594,"color":"#000"},{"offset":0.6618,"color":"#fff"},
{"offset":0.7066,"color":"#fff"},{"offset":0.7090,"color":"#000"},{"offset":0.7120,"color":"#000"},{"offset":0.7144,"color":"#fff"},
{"offset":0.7593,"color":"#fff"},{"offset":0.7617,"color":"#000"},{"offset":0.7647,"color":"#000"},{"offset":0.7671,"color":"#fff"},
{"offset":0.8119,"color":"#fff"},{"offset":0.8143,"color":"#000"},{"offset":0.8173,"color":"#000"},{"offset":0.8197,"color":"#fff"},
{"offset":0.8645,"color":"#fff"},{"offset":0.8669,"color":"#000"},{"offset":0.8699,"color":"#000"},{"offset":0.8723,"color":"#fff"},
{"offset":0.9172,"color":"#fff"},{"offset":0.9196,"color":"#000"},{"offset":0.9226,"color":"#000"},{"offset":0.9250,"color":"#fff"},
{"offset":0.9698,"color":"#fff"},{"offset":0.9722,"color":"#000"},{"offset":0.9752,"color":"#000"},{"offset":0.9776,"color":"#fff"}
    ]}},
   "encoding": {
    "x": {"field": "sys", "type": "nominal", "axis": {"orient": "top", "offset": 0, "ticks": false, "labels": false, "title": null}},
    "y": {"field": "value", "type": "quantitative", "axis": {"orient": "right", "ticks": false, "labels": false, "title": "cache-misses", "titleFont": "Liberation Mono", "titleFontSize": 18.5, "titleAngle": 0, "titleX": -192.75, "titleY": 320, "titleAlign": "left", "titleBaseline": "alphabetic"}}
   }},
  {"mark": {"type": "errorbar", "color": "black", "thickness": 2},
   "encoding": {"x": {"field": "sys", "type": "nominal", "axis": null}, "y": {"field": "value", "type": "quantitative", "axis": null}, "yError": {"field": "err"}}}
 ]},
{"width": 262, "height": 262,
 "transform": [{"filter": "datum.metric === 'dTLB-load-misses'"}],
 "resolve": {"axis": {"x": "independent", "y": "independent"}},
 "layer": [
  {"transform": [{"filter": "datum.sys === 'A'"}],
   "mark": {"type": "bar", "fill": "white", "stroke": "black", "strokeWidth": 1.2},
   "encoding": {
    "x": {"field": "sys", "type": "nominal", "scale": {"domain": ["A","B"], "paddingInner": 0, "paddingOuter": 0.1, "range": [0, 262]},
          "axis": {"orient": "bottom", "ticks": false, "labels": false, "title": "(j)", "titleFont": "Liberation Serif", "titleFontSize": 23, "titleX": 18.35, "titleY": 58, "titleAlign": "left", "titleBaseline": "alphabetic"}},
    "y": {"field": "value", "type": "quantitative", "scale": {"domain": [0, 7.04e5], "range": [262, 0], "nice": false},
          "axis": {"orient": "left", "offset": 0, "values": [0,1e5,2e5,3e5,4e5,5e5,6e5,7e5], "labelExpr": "format(datum.value / 1e5, '.0f')", "labelFontSize": 15.6, "tickSize": 5.4, "labelPadding": 5.4, "title": "1e5", "titleFontSize": 15.6, "titleAngle": 0, "titleX": 1, "titleY": -5, "titleAlign": "left", "titleBaseline": "alphabetic"}}
   }},
  {"transform": [{"filter": "datum.sys === 'B'"}],
   "mark": {"type": "bar", "stroke": "black", "strokeWidth": 1.2,
    "fill": {"gradient": "linear", "x1": 0, "y1": 0, "x2": 0.6964, "y2": 1.1793, "stops": [
{"offset":0.0237,"color":"#fff"},{"offset":0.0262,"color":"#000"},{"offset":0.0294,"color":"#000"},{"offset":0.0319,"color":"#fff"},
{"offset":0.0792,"color":"#fff"},{"offset":0.0817,"color":"#000"},{"offset":0.0849,"color":"#000"},{"offset":0.0874,"color":"#fff"},
{"offset":0.1348,"color":"#fff"},{"offset":0.1373,"color":"#000"},{"offset":0.1405,"color":"#000"},{"offset":0.1430,"color":"#fff"},
{"offset":0.1903,"color":"#fff"},{"offset":0.1928,"color":"#000"},{"offset":0.1960,"color":"#000"},{"offset":0.1985,"color":"#fff"},
{"offset":0.2459,"color":"#fff"},{"offset":0.2484,"color":"#000"},{"offset":0.2516,"color":"#000"},{"offset":0.2541,"color":"#fff"},
{"offset":0.3015,"color":"#fff"},{"offset":0.3040,"color":"#000"},{"offset":0.3072,"color":"#000"},{"offset":0.3097,"color":"#fff"},
{"offset":0.3570,"color":"#fff"},{"offset":0.3595,"color":"#000"},{"offset":0.3627,"color":"#000"},{"offset":0.3652,"color":"#fff"},
{"offset":0.4126,"color":"#fff"},{"offset":0.4151,"color":"#000"},{"offset":0.4183,"color":"#000"},{"offset":0.4208,"color":"#fff"},
{"offset":0.4681,"color":"#fff"},{"offset":0.4706,"color":"#000"},{"offset":0.4738,"color":"#000"},{"offset":0.4763,"color":"#fff"},
{"offset":0.5237,"color":"#fff"},{"offset":0.5262,"color":"#000"},{"offset":0.5294,"color":"#000"},{"offset":0.5319,"color":"#fff"},
{"offset":0.5792,"color":"#fff"},{"offset":0.5817,"color":"#000"},{"offset":0.5849,"color":"#000"},{"offset":0.5874,"color":"#fff"},
{"offset":0.6348,"color":"#fff"},{"offset":0.6373,"color":"#000"},{"offset":0.6405,"color":"#000"},{"offset":0.6430,"color":"#fff"},
{"offset":0.6903,"color":"#fff"},{"offset":0.6928,"color":"#000"},{"offset":0.6960,"color":"#000"},{"offset":0.6985,"color":"#fff"},
{"offset":0.7459,"color":"#fff"},{"offset":0.7484,"color":"#000"},{"offset":0.7516,"color":"#000"},{"offset":0.7541,"color":"#fff"},
{"offset":0.8015,"color":"#fff"},{"offset":0.8040,"color":"#000"},{"offset":0.8072,"color":"#000"},{"offset":0.8097,"color":"#fff"},
{"offset":0.8570,"color":"#fff"},{"offset":0.8595,"color":"#000"},{"offset":0.8627,"color":"#000"},{"offset":0.8652,"color":"#fff"},
{"offset":0.9126,"color":"#fff"},{"offset":0.9151,"color":"#000"},{"offset":0.9183,"color":"#000"},{"offset":0.9208,"color":"#fff"},
{"offset":0.9681,"color":"#fff"},{"offset":0.9706,"color":"#000"},{"offset":0.9738,"color":"#000"},{"offset":0.9763,"color":"#fff"}
    ]}},
   "encoding": {
    "x": {"field": "sys", "type": "nominal", "axis": {"orient": "top", "offset": 0, "ticks": false, "labels": false, "title": null}},
    "y": {"field": "value", "type": "quantitative", "axis": {"orient": "right", "ticks": false, "labels": false, "title": "dTLB-load-misses", "titleFont": "Liberation Mono", "titleFontSize": 18.5, "titleAngle": 0, "titleX": -214.95, "titleY": 320, "titleAlign": "left", "titleBaseline": "alphabetic"}}
   }},
  {"mark": {"type": "errorbar", "color": "black", "thickness": 2},
   "encoding": {"x": {"field": "sys", "type": "nominal", "axis": null}, "y": {"field": "value", "type": "quantitative", "axis": null}, "yError": {"field": "err"}}}
 ]},
{"width": 262, "height": 262,
 "transform": [{"filter": "datum.metric === 'iTLB-load-misses'"}],
 "resolve": {"axis": {"x": "independent", "y": "independent"}},
 "layer": [
  {"transform": [{"filter": "datum.sys === 'A'"}],
   "mark": {"type": "bar", "fill": "white", "stroke": "black", "strokeWidth": 1.2},
   "encoding": {
    "x": {"field": "sys", "type": "nominal", "scale": {"domain": ["A","B"], "paddingInner": 0, "paddingOuter": 0.1, "range": [12, 262]},
          "axis": {"orient": "bottom", "ticks": false, "labels": false, "title": "(k)", "titleFont": "Liberation Serif", "titleFontSize": 23, "titleX": 15.8, "titleY": 58, "titleAlign": "left", "titleBaseline": "alphabetic"}},
    "y": {"field": "value", "type": "quantitative", "scale": {"domain": [0, 2.247e5], "range": [262, 12], "nice": false},
          "axis": {"orient": "left", "offset": -12, "values": [0,5e4,1e5,1.5e5,2e5], "labelExpr": "format(datum.value / 1e5, '.1f')", "labelFontSize": 14.8, "tickSize": 5.2, "labelPadding": 5.2, "title": "1e5", "titleFontSize": 14.8, "titleAngle": 0, "titleX": 1, "titleY": 7, "titleAlign": "left", "titleBaseline": "alphabetic"}}
   }},
  {"transform": [{"filter": "datum.sys === 'B'"}],
   "mark": {"type": "bar", "stroke": "black", "strokeWidth": 1.2,
    "fill": {"gradient": "linear", "x1": 0, "y1": 0, "x2": 0.7299, "y2": 1.1687, "stops": [
{"offset":0.0252,"color":"#fff"},{"offset":0.0278,"color":"#000"},{"offset":0.0310,"color":"#000"},{"offset":0.0336,"color":"#fff"},
{"offset":0.0840,"color":"#fff"},{"offset":0.0866,"color":"#000"},{"offset":0.0898,"color":"#000"},{"offset":0.0924,"color":"#fff"},
{"offset":0.1429,"color":"#fff"},{"offset":0.1455,"color":"#000"},{"offset":0.1487,"color":"#000"},{"offset":0.1513,"color":"#fff"},
{"offset":0.2017,"color":"#fff"},{"offset":0.2043,"color":"#000"},{"offset":0.2075,"color":"#000"},{"offset":0.2101,"color":"#fff"},
{"offset":0.2605,"color":"#fff"},{"offset":0.2631,"color":"#000"},{"offset":0.2663,"color":"#000"},{"offset":0.2689,"color":"#fff"},
{"offset":0.3193,"color":"#fff"},{"offset":0.3219,"color":"#000"},{"offset":0.3251,"color":"#000"},{"offset":0.3277,"color":"#fff"},
{"offset":0.3782,"color":"#fff"},{"offset":0.3808,"color":"#000"},{"offset":0.3840,"color":"#000"},{"offset":0.3866,"color":"#fff"},
{"offset":0.4370,"color":"#fff"},{"offset":0.4396,"color":"#000"},{"offset":0.4428,"color":"#000"},{"offset":0.4454,"color":"#fff"},
{"offset":0.4958,"color":"#fff"},{"offset":0.4984,"color":"#000"},{"offset":0.5016,"color":"#000"},{"offset":0.5042,"color":"#fff"},
{"offset":0.5546,"color":"#fff"},{"offset":0.5572,"color":"#000"},{"offset":0.5604,"color":"#000"},{"offset":0.5630,"color":"#fff"},
{"offset":0.6134,"color":"#fff"},{"offset":0.6160,"color":"#000"},{"offset":0.6192,"color":"#000"},{"offset":0.6218,"color":"#fff"},
{"offset":0.6723,"color":"#fff"},{"offset":0.6749,"color":"#000"},{"offset":0.6781,"color":"#000"},{"offset":0.6807,"color":"#fff"},
{"offset":0.7311,"color":"#fff"},{"offset":0.7337,"color":"#000"},{"offset":0.7369,"color":"#000"},{"offset":0.7395,"color":"#fff"},
{"offset":0.7899,"color":"#fff"},{"offset":0.7925,"color":"#000"},{"offset":0.7957,"color":"#000"},{"offset":0.7983,"color":"#fff"},
{"offset":0.8487,"color":"#fff"},{"offset":0.8513,"color":"#000"},{"offset":0.8545,"color":"#000"},{"offset":0.8571,"color":"#fff"},
{"offset":0.9076,"color":"#fff"},{"offset":0.9102,"color":"#000"},{"offset":0.9134,"color":"#000"},{"offset":0.9160,"color":"#fff"},
{"offset":0.9664,"color":"#fff"},{"offset":0.9690,"color":"#000"},{"offset":0.9722,"color":"#000"},{"offset":0.9748,"color":"#fff"}
    ]}},
   "encoding": {
    "x": {"field": "sys", "type": "nominal", "axis": {"orient": "top", "offset": -12, "ticks": false, "labels": false, "title": null}},
    "y": {"field": "value", "type": "quantitative", "axis": {"orient": "right", "ticks": false, "labels": false, "title": "iTLB-load-misses", "titleFont": "Liberation Mono", "titleFontSize": 18.5, "titleAngle": 0, "titleX": -212.4, "titleY": 320, "titleAlign": "left", "titleBaseline": "alphabetic"}}
   }},
  {"mark": {"type": "errorbar", "color": "black", "thickness": 2},
   "encoding": {"x": {"field": "sys", "type": "nominal", "axis": null}, "y": {"field": "value", "type": "quantitative", "axis": null}, "yError": {"field": "err"}}}
 ]},
{"width": 262, "height": 262,
 "transform": [{"filter": "datum.metric === 'LLC-load-misses'"}],
 "resolve": {"axis": {"x": "independent", "y": "independent"}},
 "layer": [
  {"transform": [{"filter": "datum.sys === 'A'"}],
   "mark": {"type": "bar", "fill": "white", "stroke": "black", "strokeWidth": 1.2},
   "encoding": {
    "x": {"field": "sys", "type": "nominal", "scale": {"domain": ["A","B"], "paddingInner": 0, "paddingOuter": 0.1, "range": [12, 262]},
          "axis": {"orient": "bottom", "ticks": false, "labels": false, "title": "(l)", "titleFont": "Liberation Serif", "titleFontSize": 23, "titleX": 23.9, "titleY": 58, "titleAlign": "left", "titleBaseline": "alphabetic"}},
    "y": {"field": "value", "type": "quantitative", "scale": {"domain": [0, 2.47e6], "range": [262, 12], "nice": false},
          "axis": {"orient": "left", "offset": -12, "values": [0,5e5,1e6,1.5e6,2e6], "labelExpr": "format(datum.value / 1e6, '.1f')", "labelFontSize": 14.8, "tickSize": 5.2, "labelPadding": 5.2, "title": "1e6", "titleFontSize": 14.8, "titleAngle": 0, "titleX": 1, "titleY": 7, "titleAlign": "left", "titleBaseline": "alphabetic"}}
   }},
  {"transform": [{"filter": "datum.sys === 'B'"}],
   "mark": {"type": "bar", "stroke": "black", "strokeWidth": 1.2,
    "fill": {"gradient": "linear", "x1": 0, "y1": 0, "x2": 0.9746, "y2": 1.0243, "stops": [
{"offset":0.0329,"color":"#fff"},{"offset":0.0364,"color":"#000"},{"offset":0.0406,"color":"#000"},{"offset":0.0441,"color":"#fff"},
{"offset":0.1098,"color":"#fff"},{"offset":0.1133,"color":"#000"},{"offset":0.1175,"color":"#000"},{"offset":0.1210,"color":"#fff"},
{"offset":0.1867,"color":"#fff"},{"offset":0.1902,"color":"#000"},{"offset":0.1944,"color":"#000"},{"offset":0.1979,"color":"#fff"},
{"offset":0.2636,"color":"#fff"},{"offset":0.2671,"color":"#000"},{"offset":0.2713,"color":"#000"},{"offset":0.2748,"color":"#fff"},
{"offset":0.3406,"color":"#fff"},{"offset":0.3441,"color":"#000"},{"offset":0.3483,"color":"#000"},{"offset":0.3518,"color":"#fff"},
{"offset":0.4175,"color":"#fff"},{"offset":0.4210,"color":"#000"},{"offset":0.4252,"color":"#000"},{"offset":0.4287,"color":"#fff"},
{"offset":0.4944,"color":"#fff"},{"offset":0.4979,"color":"#000"},{"offset":0.5021,"color":"#000"},{"offset":0.5056,"color":"#fff"},
{"offset":0.5713,"color":"#fff"},{"offset":0.5748,"color":"#000"},{"offset":0.5790,"color":"#000"},{"offset":0.5825,"color":"#fff"},
{"offset":0.6482,"color":"#fff"},{"offset":0.6517,"color":"#000"},{"offset":0.6559,"color":"#000"},{"offset":0.6594,"color":"#fff"},
{"offset":0.7252,"color":"#fff"},{"offset":0.7287,"color":"#000"},{"offset":0.7329,"color":"#000"},{"offset":0.7364,"color":"#fff"},
{"offset":0.8021,"color":"#fff"},{"offset":0.8056,"color":"#000"},{"offset":0.8098,"color":"#000"},{"offset":0.8133,"color":"#fff"},
{"offset":0.8790,"color":"#fff"},{"offset":0.8825,"color":"#000"},{"offset":0.8867,"color":"#000"},{"offset":0.8902,"color":"#fff"},
{"offset":0.9559,"color":"#fff"},{"offset":0.9594,"color":"#000"},{"offset":0.9636,"color":"#000"},{"offset":0.9671,"color":"#fff"}
    ]}},
   "encoding": {
    "x": {"field": "sys", "type": "nominal", "axis": {"orient": "top", "offset": -12, "ticks": false, "labels": false, "title": null}},
    "y": {"field": "value", "type": "quantitative", "axis": {"orient": "right", "ticks": false, "labels": false, "title": "LLC-load-misses", "titleFont": "Liberation Mono", "titleFontSize": 18.5, "titleAngle": 0, "titleX": -209.4, "titleY": 320, "titleAlign": "left", "titleBaseline": "alphabetic"}}
   }},
  {"mark": {"type": "errorbar", "color": "black", "thickness": 2},
   "encoding": {"x": {"field": "sys", "type": "nominal", "axis": null}, "y": {"field": "value", "type": "quantitative", "axis": null}, "yError": {"field": "err"}}}
 ]}
],
"config": {
 "view": {"stroke": null},
 "axis": {"grid": false, "domainColor": "black", "domainWidth": 1.1, "domainCap": "square", "tickColor": "black", "tickWidth": 1.1, "labelColor": "black", "titleColor": "black", "labelFont": "DejaVu Sans", "titleFont": "DejaVu Sans", "titleFontWeight": "normal", "titlePadding": 0}
}
}
